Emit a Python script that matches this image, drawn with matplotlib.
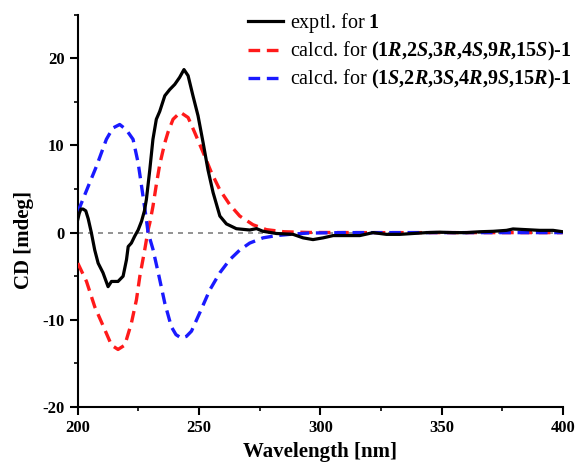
import matplotlib
matplotlib.use("Agg")
import matplotlib.pyplot as plt
from matplotlib.ticker import MultipleLocator

plt.rcParams['font.family'] = ['Liberation Serif', 'DejaVu Serif']
plt.rcParams['axes.unicode_minus'] = False
plt.rcParams['mathtext.fontset'] = 'custom'
plt.rcParams['mathtext.rm'] = 'Liberation Serif'
plt.rcParams['mathtext.bf'] = 'Liberation Serif:bold'
plt.rcParams['mathtext.it'] = 'Liberation Serif:italic'
plt.rcParams['mathtext.bfit'] = 'Liberation Serif:bold:italic'

# Experimental CD spectrum
exp_wl = [200, 200.6, 201.3, 202.2, 203.3, 204.3, 205.6, 207, 208.4, 210.4, 212.5, 213.9, 215.3,
          216.6, 218.7, 220.1, 220.8, 222.1, 223.5, 224.9, 226.3, 227.5, 228.3, 229.7, 231,
          232.4, 233.8, 235.9, 237.9, 240, 242, 243.8, 245.5, 247.5, 249.6, 251.7, 253.7,
          255.8, 258.6, 261.3, 265.4, 270.9, 273.7, 276.4, 281.9, 288.8, 292.9, 297, 301.2,
          305.3, 310.8, 316.3, 321.8, 327.3, 332.8, 338.3, 343.8, 349.3, 354.8, 360.3, 365.8,
          371.3, 376.8, 379.5, 385, 390.5, 396, 400]
exp_cd = [1.5, 2.2, 2.7, 2.7, 2.5, 1.6, 0.0, -2.0, -3.5, -4.6, -6.2, -5.6, -5.6,
          -5.6, -5.0, -3.1, -1.6, -1.2, -0.4, 0.3, 1.3, 2.5, 3.8, 7.2, 10.7,
          13.0, 13.9, 15.7, 16.4, 17.0, 17.8, 18.7, 18.0, 15.7, 13.4, 10.3, 7.2,
          4.6, 1.9, 1.0, 0.45, 0.3, 0.46, 0.15, -0.1, -0.2, -0.6, -0.8, -0.6,
          -0.34, -0.34, -0.34, 0.0, -0.2, -0.2, -0.1, 0.0, 0.05, 0.0, 0.0, 0.1,
          0.15, 0.26, 0.42, 0.34, 0.26, 0.26, 0.1]

# Calculated (1R,2S,3R,4S,9R,15S)-1
red_wl = [200, 203.6, 207, 211.1, 213.9, 216.6, 219.4, 222.1, 224.2, 225.6, 227.6, 229, 229.7,
          231, 232.4, 233.8, 235.9, 237.2, 239.3, 242.3, 245.5, 248.2, 251.7, 255.1, 258.6,
          262.7, 266.8, 272.3, 277.8, 285, 295, 320, 400]
red_cd = [-3.5, -5.6, -8.5, -11.1, -12.9, -13.4, -12.9, -10.4, -7.7, -5.0, -2.0, 0.3, 1.1,
          3.0, 5.5, 7.8, 10.3, 11.5, 13.0, 13.8, 13.2, 11.5, 9.2, 6.9, 4.9,
          3.2, 1.9, 0.9, 0.34, 0.1, 0.02, 0.0, 0.0]

# Calculated (1S,2R,3S,4R,9S,15R)-1
blue_wl = [200, 200.8, 204.3, 207.7, 211.8, 214.5, 217.3, 220, 222.8, 224.9, 226.9, 228.3, 229,
           231, 233.5, 235.9, 238.6, 240.5, 242.7, 244.8, 246.9, 250.3, 254.4, 258.6, 262.7,
           266.8, 270.9, 276.4, 281.9, 287.4, 295, 310, 400]
blue_cd = [2.4, 2.9, 5.3, 7.6, 10.7, 12.0, 12.4, 11.8, 10.7, 8.0, 4.2, 1.5, 0.0,
           -1.9, -5.0, -8.1, -10.8, -11.7, -12.1, -11.9, -11.3, -9.2, -6.6, -4.6, -3.1,
           -2.0, -1.2, -0.6, -0.34, -0.2, -0.05, 0.0, 0.0]

x_ticks = [200, 250, 300, 350, 400]
y_ticks = [-20, -10, 0, 10, 20]

fig = plt.figure(figsize=(5.76, 4.66), dpi=100)
ax = fig.add_axes([0.135, 0.1266, 0.842, 0.842])

ax.axhline(0, color='#808080', lw=1.2, ls=(0, (3, 3)), zorder=1)
ax.plot(exp_wl, exp_cd, color='black', lw=2.3, label=r'exptl. for $\mathbf{1}$', zorder=4)
red_label = (r'calcd. for $\mathbf{(1}\mathbfit{R}\mathbf{{,}2}\mathbfit{S}\mathbf{{,}3}\mathbfit{R}'
             r'\mathbf{{,}4}\mathbfit{S}\mathbf{{,}9}\mathbfit{R}\mathbf{{,}15}\mathbfit{S}\mathbf{)\text{-}1}$')
blue_label = (r'calcd. for $\mathbf{(1}\mathbfit{S}\mathbf{{,}2}\mathbfit{R}\mathbf{{,}3}\mathbfit{S}'
              r'\mathbf{{,}4}\mathbfit{R}\mathbf{{,}9}\mathbfit{S}\mathbf{{,}15}\mathbfit{R}\mathbf{)\text{-}1}$')
ax.plot(red_wl, red_cd, color='#ff1a1a', lw=2.4, ls=(0, (3.5, 2)), label=red_label, zorder=3)
ax.plot(blue_wl, blue_cd, color='#1a1aff', lw=2.4, ls=(0, (3.5, 2)), label=blue_label, zorder=3)

ax.set_xlim(200, 400)
ax.set_ylim(-20, 25)
ax.set_xticks(x_ticks)
ax.set_yticks(y_ticks)
ax.xaxis.set_minor_locator(MultipleLocator(25))
ax.yaxis.set_minor_locator(MultipleLocator(5))
for s in ['top', 'right']:
    ax.spines[s].set_visible(False)
for s in ['left', 'bottom']:
    ax.spines[s].set_linewidth(1.5)
ax.tick_params(which='major', direction='out', length=6, width=1.5, labelsize=12)
ax.tick_params(which='minor', direction='out', length=3, width=1.2)
for lab in ax.get_xticklabels() + ax.get_yticklabels():
    lab.set_fontweight('bold')

ax.set_xlabel('Wavelength [nm]', fontsize=15, fontweight='bold', labelpad=4)
ax.set_ylabel('CD [mdeg]', fontsize=15, fontweight='bold')
ax.yaxis.set_label_coords(-0.09, 0.426)

leg = fig.legend(loc='upper right', bbox_to_anchor=(1.0, 0.985), frameon=False, fontsize=14.5,
                 handlelength=1.75, handletextpad=0.35, labelspacing=0.25, borderaxespad=0.0,
                 borderpad=0.2)

fig.savefig('out.png', dpi=100)
